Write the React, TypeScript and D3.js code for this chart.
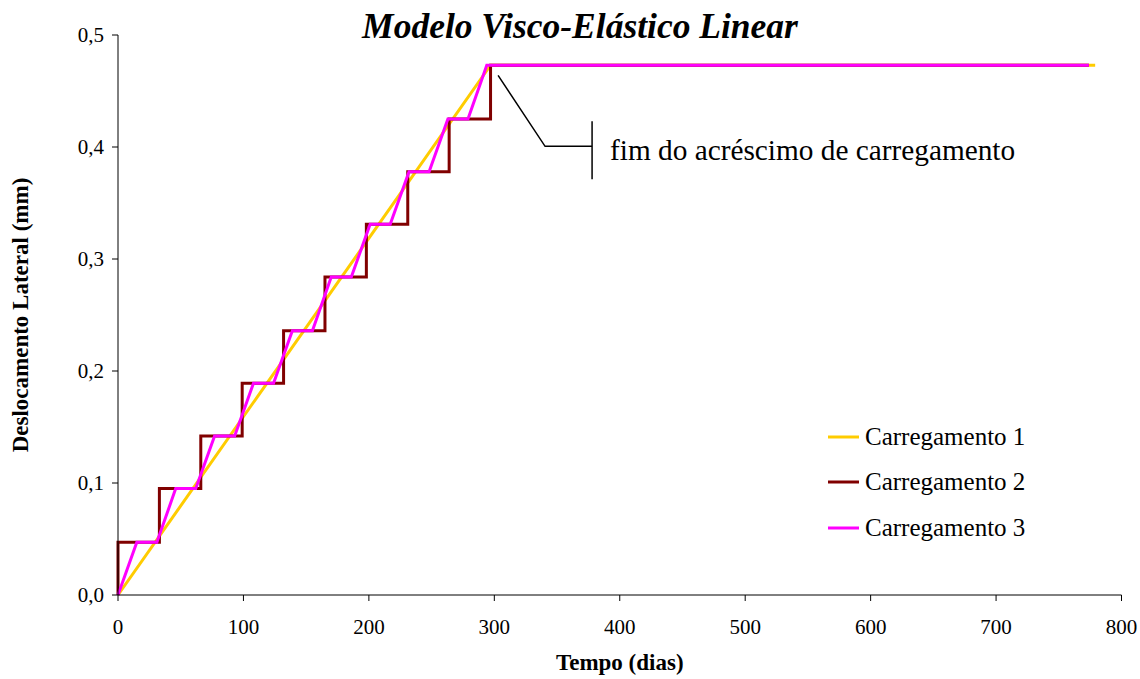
import React from "react";
import * as d3 from "d3";

const xTicks = [0, 100, 200, 300, 400, 500, 600, 700, 800];
const yTicks = [0, 0.1, 0.2, 0.3, 0.4, 0.5];

const load1Time = [0, 297, 779];
const load1Value = [0, 0.473, 0.473];

const load2Time = [0, 0, 33, 33, 66, 66, 99, 99, 132, 132, 165, 165, 198, 198, 231, 231, 264, 264, 297, 297, 774];
const load2Value = [0, 0.047, 0.047, 0.095, 0.095, 0.142, 0.142, 0.189, 0.189, 0.236, 0.236, 0.284, 0.284, 0.331, 0.331, 0.378, 0.378, 0.425, 0.425, 0.473, 0.473];

const load3Time = [0, 15, 31, 46, 62, 77, 93, 108, 124, 139, 155, 170, 186, 201, 217, 232, 248, 263, 279, 294, 774];
const load3Value = [0, 0.047, 0.047, 0.095, 0.095, 0.142, 0.142, 0.189, 0.189, 0.236, 0.236, 0.284, 0.284, 0.331, 0.331, 0.378, 0.378, 0.425, 0.425, 0.473, 0.473];

const seriesNames = ["Carregamento 1", "Carregamento 2", "Carregamento 3"];
const seriesColors = ["#FFCC00", "#800000", "#FF00FF"];

const annotationText = "fim do acréscimo de carregamento";
const annotationPoint = [303, 0.464];

const W = 1140;
const H = 679;
const FONT = '"Liberation Serif", "Times New Roman", Times, serif';

export default function App() {
  const x = d3.scaleLinear().domain([0, 800]).range([118, 1121.5]);
  const y = d3.scaleLinear().domain([0, 0.5]).range([595, 35]);

  const series = [
    { t: load1Time, v: load1Value },
    { t: load2Time, v: load2Value },
    { t: load3Time, v: load3Value },
  ];

  const line = d3
    .line<[number, number]>()
    .x((d) => x(d[0]))
    .y((d) => y(d[1]));

  const ax = x(annotationPoint[0]);
  const ay = y(annotationPoint[1]);
  const elbowX = ax + 47;
  const elbowY = ay + 71;
  const barX = elbowX + 47;

  const legendX = 828;
  const legendY = [437, 482, 528];
  const ts = { fontFamily: FONT };

  return (
    <svg
      width={W}
      height={H}
      style={{ position: "absolute", left: 0, top: 0, background: "#fff", fontFamily: FONT }}
    >
      <rect width={W} height={H} fill="#fff" />
      {/* title */}
      <text
        x={580}
        y={38}
        textAnchor="middle"
        fontSize={35.5}
        fontWeight="bold"
        fontStyle="italic"
        fill="#000"
        style={ts}
      >
        Modelo Visco-Elástico Linear
      </text>

      {/* series */}
      {series.map((s, i) => (
        <path
          key={i}
          d={line(s.t.map((t, j) => [t, s.v[j]] as [number, number])) || ""}
          fill="none"
          stroke={seriesColors[i]}
          strokeWidth={3}
          strokeLinejoin="miter"
        />
      ))}

      {/* axes */}
      <line x1={x(0)} x2={x(800)} y1={y(0)} y2={y(0)} stroke="#000" strokeWidth={1} />
      <line x1={x(0)} x2={x(0)} y1={y(0)} y2={y(0.5)} stroke="#000" strokeWidth={1} />
      {xTicks.map((t) => (
        <g key={"x" + t}>
          <line x1={x(t)} x2={x(t)} y1={y(0)} y2={y(0) + 6} stroke="#000" />
          <text x={x(t)} y={y(0) + 39} textAnchor="middle" fontSize={21} fill="#000" style={ts}>
            {String(t)}
          </text>
        </g>
      ))}
      {yTicks.map((t) => (
        <g key={"y" + t}>
          <line x1={x(0) - 6} x2={x(0)} y1={y(t)} y2={y(t)} stroke="#000" />
          <text x={x(0) - 14} y={y(t) + 7} textAnchor="end" fontSize={21} fill="#000" style={ts}>
            {t.toFixed(1).replace(".", ",")}
          </text>
        </g>
      ))}

      {/* axis titles */}
      <text x={x(400)} y={670} textAnchor="middle" fontSize={23} fontWeight="bold" fill="#000" style={ts}>
        Tempo (dias)
      </text>
      <text
        transform={`translate(28, ${y(0.25)}) rotate(-90)`}
        textAnchor="middle"
        fontSize={23}
        fontWeight="bold"
        fill="#000"
        style={ts}
      >
        Deslocamento Lateral (mm)
      </text>

      {/* annotation */}
      <polyline
        points={`${ax},${ay} ${elbowX},${elbowY} ${barX},${elbowY}`}
        fill="none"
        stroke="#000"
        strokeWidth={1.5}
      />
      <line x1={barX} x2={barX} y1={elbowY - 25} y2={elbowY + 33} stroke="#000" strokeWidth={1.5} />
      <text x={barX + 18} y={elbowY + 14} fontSize={29.3} fill="#000" style={ts}>
        {annotationText}
      </text>

      {/* legend */}
      {seriesNames.map((n, i) => (
        <g key={n}>
          <line
            x1={legendX}
            x2={legendX + 31}
            y1={legendY[i]}
            y2={legendY[i]}
            stroke={seriesColors[i]}
            strokeWidth={3}
          />
          <text x={legendX + 37} y={legendY[i] + 8} fontSize={25} fill="#000" style={ts}>
            {n}
          </text>
        </g>
      ))}
    </svg>
  );
}
